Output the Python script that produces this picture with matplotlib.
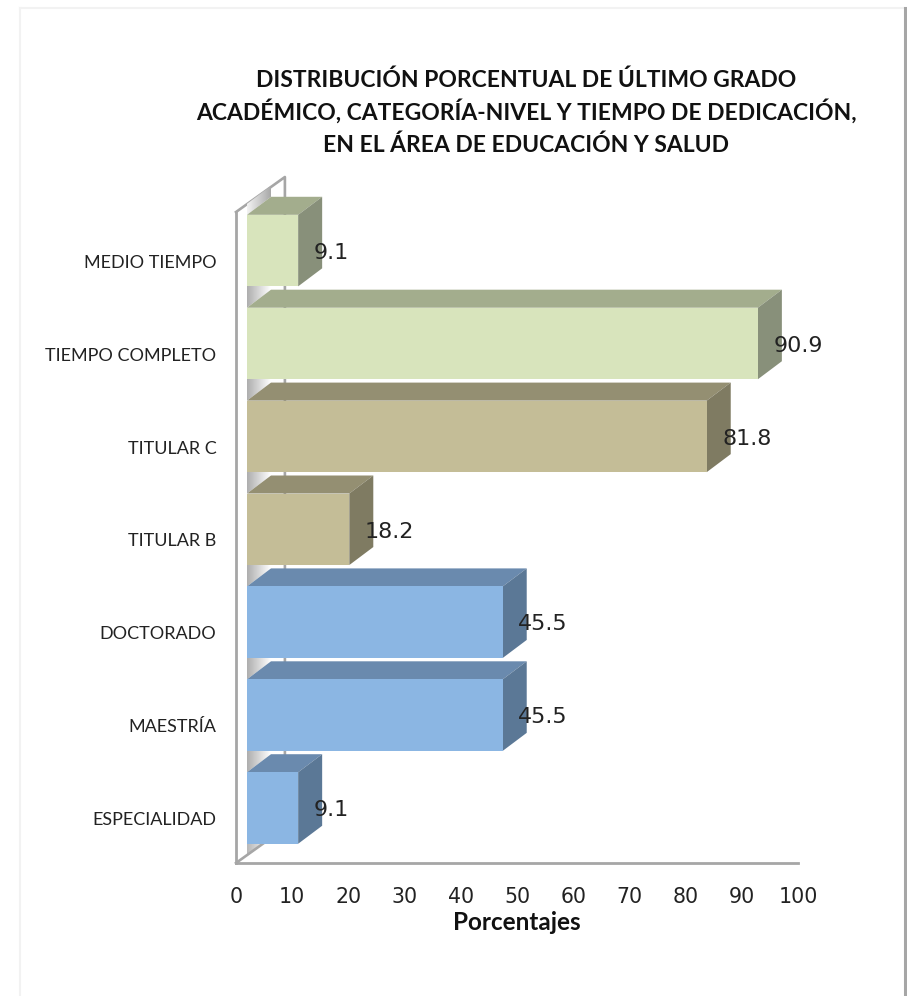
import numpy as np
import matplotlib
matplotlib.use("Agg")
import matplotlib.pyplot as plt
from matplotlib.lines import Line2D
from matplotlib.patches import Polygon

# Chart data, bottom to top
categories = ["ESPECIALIDAD", "MAESTRÍA", "DOCTORADO", "TITULAR B", "TITULAR C",
              "TIEMPO COMPLETO", "MEDIO TIEMPO"]
values = [9.1, 45.5, 45.5, 18.2, 81.8, 90.9, 9.1]
x_ticks = [0, 10, 20, 30, 40, 50, 60, 70, 80, 90, 100]
title_lines = ["DISTRIBUCIÓN PORCENTUAL DE ÚLTIMO GRADO",
               "ACADÉMICO, CATEGORÍA-NIVEL Y TIEMPO DE DEDICACIÓN,",
               "EN EL ÁREA DE EDUCACIÓN Y SALUD"]

# (front, top, side) colours of each bar
blue = ("#8BB6E3", "#6A8AAE", "#5B7896")
tan = ("#C4BD97", "#948F72", "#7F7B62")
green = ("#D8E4BC", "#A3AD8D", "#88907A")
bar_colors = [blue, blue, blue, tan, tan, green, green]

# 3D look, in data units
base = 1.96       # gap between the front axis and the start of the bars
bar_h = 0.77
dx = 4.27         # depth of the bars
dy = 0.194
wall_dx = 8.7     # depth of the wall
wall_dy = 0.377
grey = "#A6A6A6"

plt.rcParams["font.family"] = ["Lato", "DejaVu Sans"]

fig = plt.figure(figsize=(9.07, 9.96), dpi=100)
ax = fig.add_axes([236 / 907, 133 / 996, 562 / 907, 686 / 996])
ylim = (-0.592, 6.792)
floor = ylim[0]
wall_top = ylim[1] - wall_dy


def wall_shadow(y, height, start, stop):
    # gradient strip along the wall, the bars cover most of it
    poly = Polygon([(base, y), (base, y + height), (base + dx, y + dy + height), (base + dx, y + dy)],
                   transform=ax.transData, facecolor="none", edgecolor="none")
    ax.add_patch(poly)
    grad = np.linspace(start, stop, 64).reshape(1, -1)
    img = ax.imshow(grad, cmap="gray", vmin=0, vmax=1, aspect="auto", zorder=1.5,
                    extent=(base, base + dx, y - 0.01, y + dy + height + 0.01))
    img.set_clip_path(poly)


# wall outline
ax.plot([0, wall_dx, wall_dx], [wall_top, wall_top + wall_dy, floor + wall_dy],
        color=grey, lw=1.9, zorder=1, clip_on=False)
ax.plot([0, wall_dx], [floor, floor + wall_dy], color=grey, lw=1.9, zorder=2, clip_on=False)

wall_shadow(len(values) - 1 + bar_h / 2, 0.118, 0.95, 0.66)
for i in range(len(values) - 1):
    wall_shadow(i + bar_h / 2, 0.24, 0.68, 1.0)
wall_shadow(floor + 0.075, 0.14, 0.72, 1.0)

for i, (val, cols) in enumerate(zip(values, bar_colors)):
    x0, x1 = base, base + val
    y0, y1 = i - bar_h / 2, i + bar_h / 2
    ax.add_patch(Polygon([(x0, y1), (x0 + dx, y1 + dy), (x1 + dx, y1 + dy), (x1, y1)],
                         facecolor=cols[1], edgecolor="none", zorder=3))
    ax.add_patch(Polygon([(x1, y0), (x1 + dx, y0 + dy), (x1 + dx, y1 + dy), (x1, y1)],
                         facecolor=cols[2], edgecolor="none", zorder=3))
    ax.barh(i, val, left=base, height=bar_h, color=cols[0], zorder=4)
    ax.annotate(f"{val:.1f}", (x1, i), xytext=(11, -1.6), textcoords="offset points",
                ha="left", va="center", fontsize=16, color="#222222",
                family="DejaVu Sans", zorder=5)

ax.set_xlim(0, 100)
ax.set_ylim(*ylim)
ax.patch.set_alpha(0)

for side in ["top", "right"]:
    ax.spines[side].set_visible(False)
for side in ["left", "bottom"]:
    ax.spines[side].set_color(grey)
    ax.spines[side].set_linewidth(2)
ax.spines["left"].set_bounds(floor, wall_top)

ax.set_xticks(x_ticks)
ax.set_xticklabels([str(t) for t in x_ticks], family="DejaVu Sans", fontsize=14.8, color="#222222")
ax.set_yticks(np.arange(len(categories)) - 0.115)
ax.set_yticklabels(categories, fontsize=13, color="#222222")
ax.tick_params(axis="both", length=0)
ax.tick_params(axis="x", pad=17.5)
ax.tick_params(axis="y", pad=14)

fig.text(517 / 907, 1 - 922 / 996, "Porcentajes", ha="center", va="center",
         fontsize=17.5, fontweight="bold", color="#111111")
for line, base_px in zip(title_lines, [87, 120, 152]):
    fig.text(526 / 907, 1 - base_px / 996, line, ha="center", va="baseline",
             fontsize=16.5, fontweight="bold", color="#111111")

# frame of the screenshot
fig.add_artist(Line2D([20 / 907, 20 / 907], [0, 1 - 8 / 996], color="#F2F2F2", lw=1.5))
fig.add_artist(Line2D([20 / 907, 903 / 907], [1 - 8 / 996, 1 - 8 / 996], color="#F2F2F2", lw=1.5))
fig.add_artist(Line2D([905 / 907, 905 / 907], [0, 1 - 8 / 996], color=grey, lw=2.2))

fig.savefig("out.png", dpi=100)
